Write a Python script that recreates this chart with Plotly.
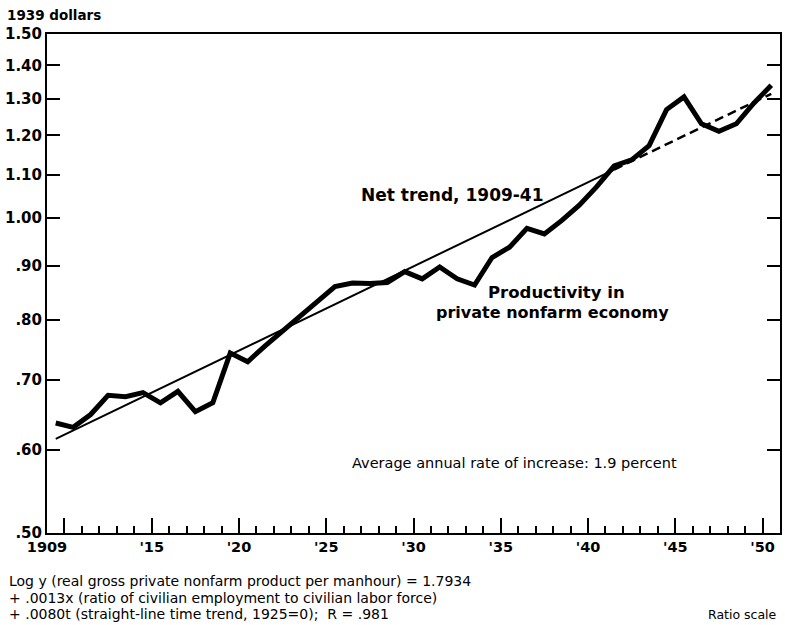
import plotly.graph_objects as go

# ---- data ----
years = list(range(1909, 1951))
productivity = [0.637, 0.631, 0.649, 0.677, 0.675, 0.681, 0.666, 0.683, 0.653, 0.666,
                0.743, 0.729, 0.755, 0.780, 0.807, 0.834, 0.860, 0.867, 0.866, 0.868,
                0.889, 0.875, 0.898, 0.875, 0.863, 0.917, 0.938, 0.978, 0.966, 0.995,
                1.029, 1.072, 1.122, 1.137, 1.173, 1.270, 1.306, 1.231, 1.211, 1.231,
                1.288, 1.340]
trend_years = [1909, 1941]
trend_values = [0.615, 1.113]
extrap_years = [1941, 1950]
extrap_values = [1.113, 1.315]

ytick_vals = [0.5, 0.6, 0.7, 0.8, 0.9, 1.0, 1.1, 1.2, 1.3, 1.4, 1.5]
ytick_text = [".50", ".60", ".70", ".80", ".90", "1.00", "1.10", "1.20", "1.30", "1.40", "1.50"]
xtick_vals = [1909, 1910, 1915, 1920, 1925, 1930, 1935, 1940, 1945, 1950]
xtick_text = ["1909", "", "'15", "'20", "'25", "'30", "'35", "'40", "'45", "'50"]

FONT = "DejaVu Sans"
W, H = 785, 625
L, R, T, B = 47, 3, 34, 92
PW, PH = W - L - R, H - T - B


def px(x, y):
    return (x - L) / PW, (H - B - y) / PH


def mid(ys):
    # values are annual, plotted at mid-year
    return [y + 0.5 for y in ys]


fig = go.Figure()
fig.add_trace(go.Scatter(x=mid(trend_years), y=trend_values, mode="lines",
                         line=dict(color="black", width=2), hoverinfo="skip"))
fig.add_trace(go.Scatter(x=mid(extrap_years), y=extrap_values, mode="lines",
                         line=dict(color="black", width=2.5, dash="9px,5px"), hoverinfo="skip"))
fig.add_trace(go.Scatter(x=mid(years), y=productivity, mode="lines",
                         line=dict(color="black", width=5)))

fig.update_layout(
    width=W, height=H, showlegend=False,
    margin=dict(l=L, r=R, t=T, b=B, pad=0),
    paper_bgcolor="white", plot_bgcolor="white",
    font=dict(family=FONT, color="black"),
)
fig.update_xaxes(
    range=[1909, 1951], showgrid=False, zeroline=False,
    showline=True, linecolor="black", linewidth=2, mirror=True,
    tickmode="array", tickvals=xtick_vals, ticktext=xtick_text,
    ticks="inside", ticklen=15, tickwidth=2, tickcolor="black",
    tickfont=dict(size=14.5, family=FONT, weight="bold"),
    minor=dict(ticks="inside", ticklen=7, tickwidth=1.5, tickcolor="black", dtick=1, tick0=1909, showgrid=False),
)
fig.update_yaxes(
    type="log", range=[-0.30103, 0.176091], showgrid=False, zeroline=False,
    showline=True, linecolor="black", linewidth=2, mirror="ticks",
    tickmode="array", tickvals=ytick_vals, ticktext=ytick_text,
    ticks="inside", ticklen=13, tickwidth=2, tickcolor="black",
    tickfont=dict(size=15, family=FONT, weight="bold"),
)

def text(s, x, y, size=14, anchor="left", weight="normal"):
    xp, yp = px(x, y)
    fig.add_annotation(text=s, x=xp, y=yp, xref="paper", yref="paper",
                       xanchor=anchor, yanchor="middle", showarrow=False,
                       font=dict(size=size, family=FONT, color="black", weight=weight))

text("1939 dollars", 5, 15, 13.5, "left", "bold")
text("Net trend, 1909-41", 454, 195, 17, "center", "bold")
text("Productivity in", 558, 292, 16.5, "center", "bold")
text("private nonfarm economy", 554, 312, 16, "center", "bold")
text("Average annual rate of increase: 1.9 percent", 516, 463, 14.5, "center")
text("Log y (real gross private nonfarm product per manhour) = 1.7934", 7, 581, 14)
text("+ .0013x (ratio of civilian employment to civilian labor force)", 7, 597.5, 14)
text("+ .0080t (straight-line time trend, 1925=0);  R = .981", 7, 614, 14)
text("Ratio scale", 781, 614, 12.5, "right")

fig.write_html("out.html", config={"displayModeBar": False},
               post_script="document.body.style.margin='0';document.body.style.overflow='hidden';")
